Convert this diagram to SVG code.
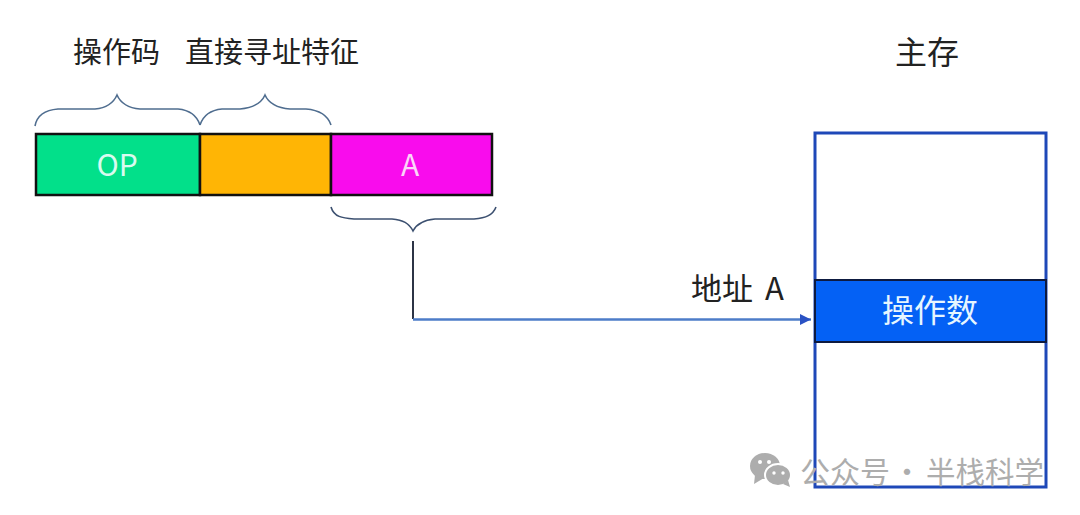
<svg xmlns="http://www.w3.org/2000/svg" width="1080" height="515" viewBox="0 0 1080 515">
<style>
.t{font-family:"Noto Sans CJK SC","Liberation Sans",sans-serif}
.l{font-size:29px;fill:#222}
.w{font-size:30px;text-anchor:middle}
.b{fill:none;stroke:#4f6d8f;stroke-width:1.600}
.c{stroke:#111;stroke-width:2.500}
</style>
<defs>
<marker id="arr" markerUnits="userSpaceOnUse" markerWidth="12" markerHeight="12" refX="11" refY="6" orient="auto"><path d="M0 0.500L11 6L0 11.500Z" fill="#2a52c4"/></marker>
</defs>
<rect width="1080" height="515" fill="#fff"/>
<g id="node-labels">
<text class="t l" x="73" y="63">操作码</text>
<text class="t l" x="185" y="63">直接寻址特征</text>
<text class="t" x="895" y="64" font-size="32" fill="#222">主存</text>
<text class="t" x="691" y="300" font-size="31" fill="#222" word-spacing="5">地址 A</text>
</g>
<g id="instruction">
<rect id="op" class="c" x="36" y="134" width="164" height="61" fill="#02e08a"/>
<rect id="feature" class="c" x="200" y="134" width="131" height="61" fill="#ffb505"/>
<rect id="addr" class="c" x="331" y="134" width="161" height="61" fill="#f90ced"/>
<text class="t w" x="117" y="176" fill="#d8fbef">OP</text>
<text class="t w" x="410" y="176" fill="#fbd5f8">A</text>
</g>
<g id="braces">
<path class="b" d="M35 126C37 115 45 110 58 109L95 109C106 108 113 104 117 95C121 104 128 108 140 109L178 109C189 110 197 116 200 125"/>
<path class="b" d="M200 125C203 116 211 110 222 109L240 109C252 108 261 104 265 95C269 104 278 108 290 109L306 109C319 110 328 116 331 125"/>
<path class="b" d="M331 207C334 217 342 218 354 219L392 219C403 220 409 223 413 231C417 223 424 220 435 219L474 219C486 218 493 215 496 207" style="stroke:#3c5070"/>
</g>
<g id="memory">
<rect id="mem" x="815" y="133" width="231" height="354" fill="#fff" stroke="#1e48b8" stroke-width="3"/>
<rect id="operand" x="815" y="280" width="231" height="62" fill="#0461f5" stroke="#0d1a40" stroke-width="2"/>
<text class="t" x="930" y="322" font-size="32" fill="#e6f6ff" text-anchor="middle">操作数</text>
</g>
<g id="connectors">
<path d="M413 241V319" fill="none" stroke="#2c3445" stroke-width="2"/>
<path d="M413 319.500H811" fill="none" stroke="#4d7cc8" stroke-width="2.500" marker-end="url(#arr)"/>
</g>
<g id="watermark" fill="#adadad">
<ellipse cx="765" cy="466" rx="15" ry="13"/>
<path d="M755 475L754 484L764 478Z"/>
<ellipse cx="778" cy="475" rx="13" ry="11" stroke="#fff" stroke-width="2"/>
<path d="M783 484L790 487L788 480Z"/>
<circle cx="760" cy="462" r="2" fill="#fff"/><circle cx="769" cy="462" r="2" fill="#fff"/>
<circle cx="774" cy="473" r="1.700" fill="#fff"/><circle cx="783" cy="473" r="1.700" fill="#fff"/>
<text class="t" y="483" font-size="30"><tspan x="800">公众号</tspan><tspan x="892">·</tspan><tspan x="926" font-size="29.500">半栈科学</tspan></text>
</g>
</svg>
